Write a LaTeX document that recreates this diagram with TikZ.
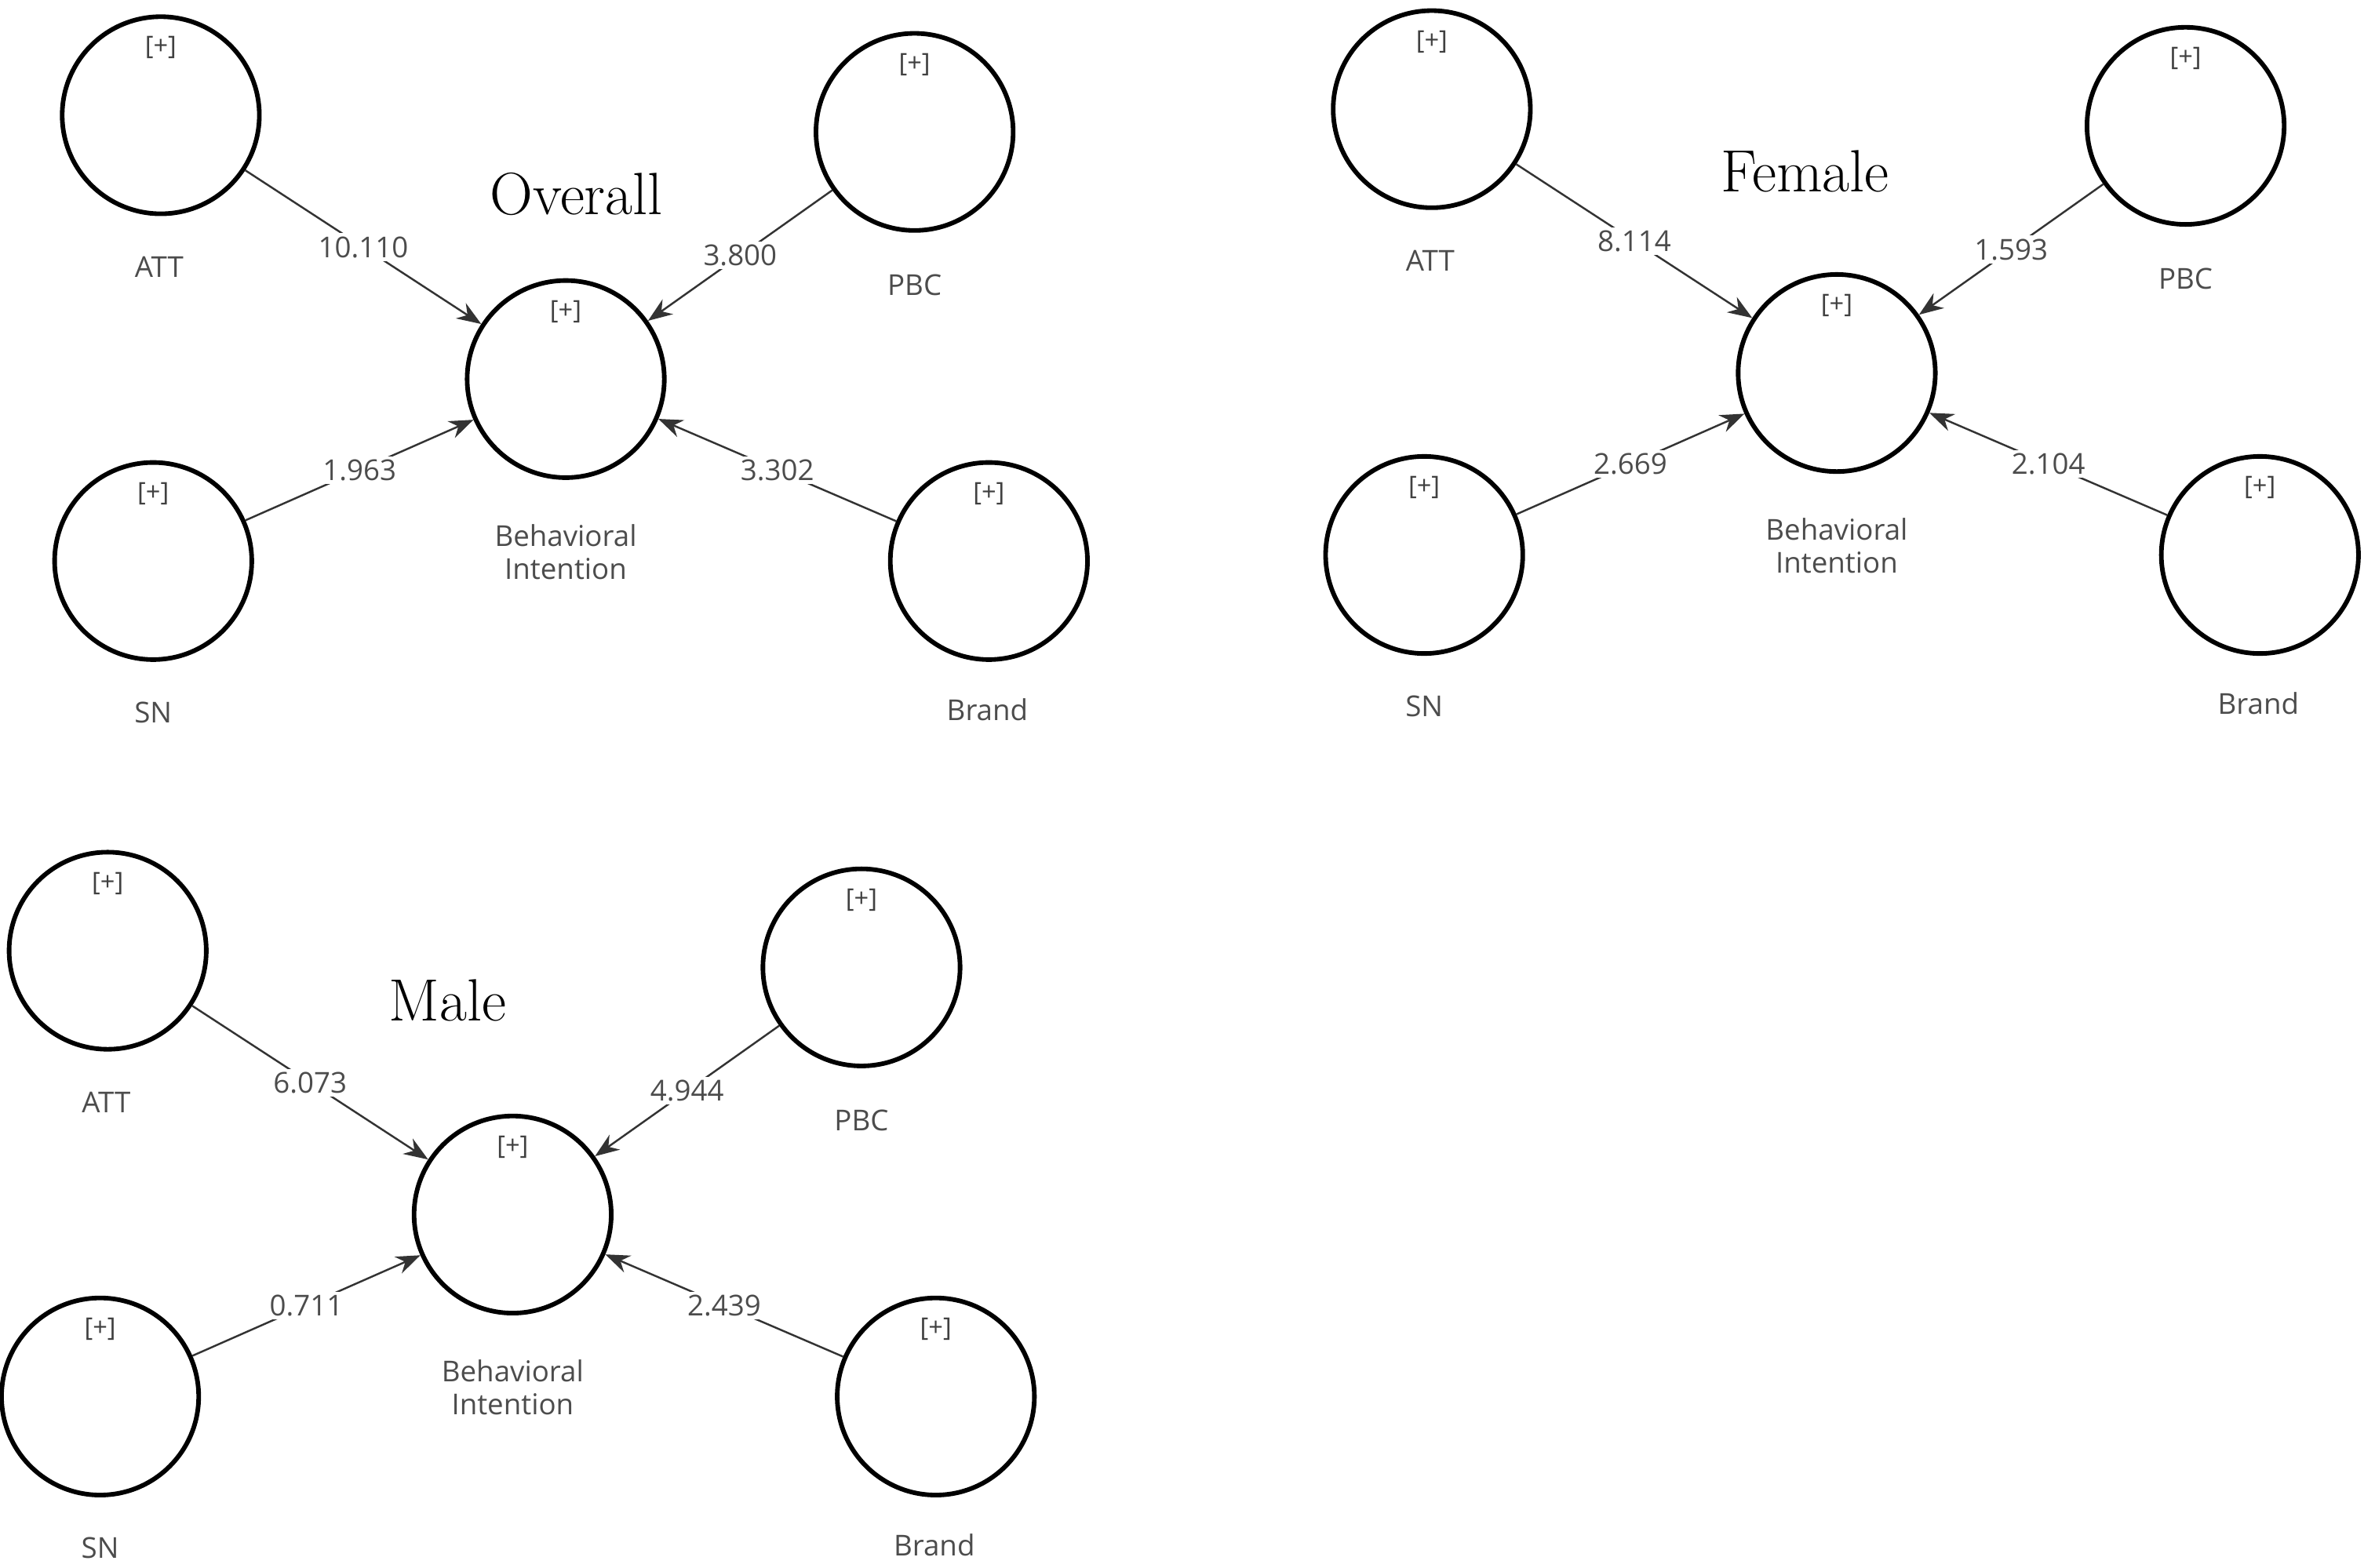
\documentclass[tikz,border=0pt]{standalone}
\usepackage{fontspec}
\setsansfont{Open Sans}
\usetikzlibrary{arrows.meta}
\tikzset{
 lv/.style={circle,draw=black,line width=4.3pt,minimum size=6.5cm,inner sep=0pt},
 plus/.style={font=\sffamily\fontsize{24}{28}\selectfont,text=black!75},
 lab/.style={font=\sffamily\fontsize{27}{33}\selectfont,text=black!70,align=center},
 ttl/.style={font=\fontsize{56}{60}\selectfont},
 pth/.style={line width=1.8pt,draw=black!80,-{Stealth[length=0.8cm,width=0.6cm]}},
 el/.style={fill=white,font=\sffamily\fontsize{27}{33}\selectfont,text=black!70,inner sep=3pt}
}
\newcommand{\mypanel}[8]{%
\begin{scope}[shift={(#2*0.05,-#3*0.05)}]
\node[lv] (#1bi) at (373*0.05,-250*0.05) {};
\node[lv] (#1att) at (106*0.05,-76*0.05) {};
\node[lv] (#1pbc) at (603*0.05,-87*0.05) {};
\node[lv] (#1sn) at (101*0.05,-370*0.05) {};
\node[lv] (#1br) at (652*0.05,-370*0.05) {};
\foreach \n in {bi,att,pbc,sn,br}{\node[plus] at ([yshift=-1.1cm]#1\n.north) {[+]};}
\node[lab] (#1tatt) at (105*0.05,-176*0.05) {ATT};
\node[lab] (#1tpbc) at (603*0.05,-188*0.05) {PBC};
\node[lab] (#1tsn) at (101*0.05,-470*0.05) {SN};
\node[lab] (#1tbr) at (651*0.05,-468*0.05) {Brand};
\node[lab] (#1tbi) at (373*0.05,-364*0.05) {Behavioral\\[-2pt]Intention};
\node[ttl] (#1title) at #4;
\draw[pth] (#1att) -- node[el]{#5} (#1bi);
\draw[pth] (#1pbc) -- node[el]{#6} (#1bi);
\draw[pth] (#1sn) -- node[el]{#7} (#1bi);
\draw[pth] (#1br) -- node[el]{#8} (#1bi);
\end{scope}}
\begin{document}
\begin{tikzpicture}
\useasboundingbox[fill=white] (0,0) rectangle (78.3,-51.7);
\mypanel{o}{0}{0}{(380*0.05,-128*0.05) {Overall}}{10.110}{3.800}{1.963}{3.302}
\mypanel{f}{838}{-4}{(352*0.05,-117*0.05) {Female}}{8.114}{1.593}{2.669}{2.104}
\mypanel{m}{-35}{551}{(330*0.05,-109*0.05) {Male}}{6.073}{4.944}{0.711}{2.439}
\end{tikzpicture}
\end{document}
